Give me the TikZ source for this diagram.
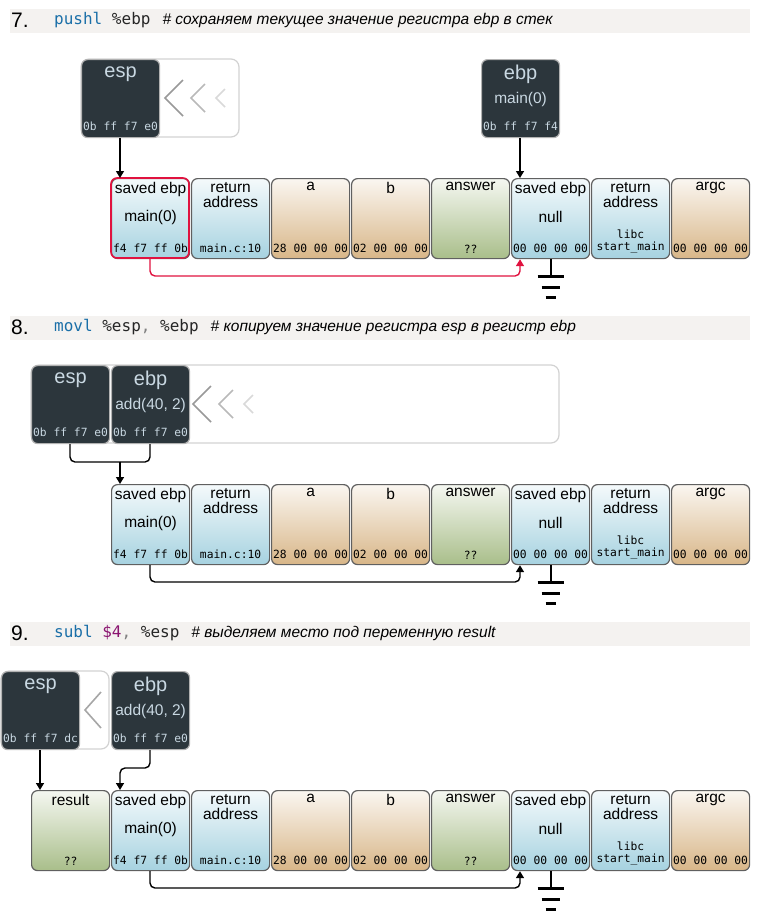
\documentclass[tikz,border=0pt]{standalone}
\usepackage{fontspec}
\setmainfont{Liberation Sans}
\newfontfamily\mono{DejaVu Sans Mono}
\usetikzlibrary{arrows.meta}
\definecolor{cblue}{HTML}{A6D2E0}
\definecolor{ctan}{HTML}{D8B688}
\definecolor{cgreen}{HTML}{A9BE8A}
\definecolor{creg}{HTML}{2C363C}
\definecolor{cregt}{HTML}{C9D8E2}
\definecolor{cred}{HTML}{E0123F}
\definecolor{hdr}{HTML}{F4F2F0}
\definecolor{kw}{HTML}{1A6FA8}
\definecolor{num}{HTML}{8A1470}
\tikzset{
 cell/.style={draw=gray!75!black,line width=1.2pt,rounded corners=6pt,minimum width=78pt,minimum height=80pt,inner sep=0pt,anchor=north west},
 reg/.style={draw=gray!60,line width=1.2pt,rounded corners=6pt,minimum width=78pt,minimum height=78pt,inner sep=0pt,anchor=north west,fill=creg},
 frame/.style={draw=gray!35,line width=1.2pt,rounded corners=8pt},
 ttl/.style={font=\fontsize{15.5}{15}\selectfont,align=center,anchor=north,inner sep=0pt},
 mid/.style={font=\fontsize{15.5}{16}\selectfont,inner sep=0pt},
 bot/.style={font=\mono\fontsize{11.3}{12}\selectfont,align=center,anchor=south,inner sep=0pt},
 rt/.style={text=cregt,inner sep=0pt},
 con/.style={line width=1.4pt,-{Triangle[length=7pt,width=8pt]}},
 gnd/.style={line width=3pt},
 chev/.style={line width=1.6pt,gray},
}
\newcommand\mycell[7]{%
 \node[cell,top color=#7!12,bottom color=#7] (#1) at (#2,#3) {};
 \node[ttl] at ([yshift=-4pt]#1.north) {#4};
 \node[mid] at ([yshift=-39pt]#1.north) {#5};
 \node[bot] at ([yshift=6pt]#1.south) {#6};}
\newcommand\myreg[6]{%
 \node[reg] (#1) at (#2,#3) {};
 \node[rt,font=\fontsize{20}{20}\selectfont] at ([yshift=-15pt]#1.north) {#4};
 \node[rt,font=\fontsize{15.5}{16}\selectfont] at ([yshift=-40pt]#1.north) {#5};
 \node[rt,font=\mono\fontsize{11.3}{11}\selectfont] at ([yshift=12pt]#1.south) {#6};}
\newcommand\chevs[3]{%
 \draw[chev,gray!80] (#1+18,#2-18)--(#1,#2)--(#1+18,#2+18);
 \draw[chev,gray!55] (#1+40,#2-14)--(#1+26,#2)--(#1+40,#2+14);
 \draw[chev,gray!30] (#1+60,#2-9)--(#1+51,#2)--(#1+60,#2+9);}
\newcommand\row[1]{%
 \mycell{rA#1}{191}{#1}{return\\address}{}{main.c:10}{cblue}
 \mycell{a#1}{271}{#1}{a}{}{28 00 00 00}{ctan}
 \mycell{b#1}{351}{#1}{b}{}{02 00 00 00}{ctan}
 \mycell{ans#1}{431}{#1}{answer}{}{??}{cgreen}
 \mycell{sn#1}{511}{#1}{saved ebp}{null}{00 00 00 00}{cblue}
 \mycell{rB#1}{591}{#1}{return\\address}{}{libc\\start\_main}{cblue}
 \mycell{argc#1}{671}{#1}{argc}{}{00 00 00 00}{ctan}
 \coordinate (g#1) at ([yshift=-17pt]sn#1.south);
 \draw[line width=1.8pt] (sn#1.south)--(g#1);
 \draw[gnd] ([xshift=-13pt]g#1)--([xshift=13pt]g#1);
 \draw[gnd] ([xshift=-9pt,yshift=-11pt]g#1)--([xshift=9pt,yshift=-11pt]g#1);
 \draw[gnd] ([xshift=-5pt,yshift=-21pt]g#1)--([xshift=5pt,yshift=-21pt]g#1);}
\newcommand\hdr[3]{%
 \fill[hdr] (10,#1) rectangle (750,#1+24);
 \node[anchor=west,inner sep=0pt,font=\fontsize{21}{21}\selectfont] at (11,#1+11) {#2};
 \node[anchor=west,inner sep=0pt] at (54,#1+11) {#3};}
\begin{document}
\begin{tikzpicture}[x=1pt,y=-1pt]
\useasboundingbox (0,0) rectangle (760,914);
% ---- 7
\hdr{9}{7.}{{\mono\fontsize{16}{16}\selectfont\color{kw}pushl \color{black!85}\%ebp}\hspace{12pt}{\fontsize{15.5}{16}\selectfont\itshape \# сохраняем текущее значение регистра ebp в стек}}
\draw[frame] (81,59) rectangle (239,137);
\chevs{165}{98}{}
\myreg{esp7}{81}{59}{esp}{}{0b ff f7 e0}
\myreg{ebp7}{481}{59}{ebp}{main(0)}{0b ff f7 f4}
\row{178}
\mycell{s7}{111}{178}{saved ebp}{main(0)}{f4 f7 ff 0b}{cblue}
\draw[cred,line width=1.6pt,rounded corners=6pt] (111,178) rectangle (189,258);
\draw[con] (esp7.south -| 120,0) -- (s7.north -| 120,0);
\draw[con] (ebp7.south -| 520,0) -- (sn178.north -| 520,0);
\draw[con,cred,rounded corners=5pt] (s7.south -| 150,0) -- (150,276) -- (520,276) -- (sn178.south -| 520,0);
% ---- 8
\hdr{316}{8.}{{\mono\fontsize{16}{16}\selectfont\color{kw}movl \color{black!85}\%esp\color{gray}, \color{black!85}\%ebp}\hspace{12pt}{\fontsize{15.5}{16}\selectfont\itshape \# копируем значение регистра esp в регистр ebp}}
\draw[frame] (31,365) rectangle (559,443);
\chevs{193}{404}{}
\myreg{esp8}{31}{365}{esp}{}{0b ff f7 e0}
\myreg{ebp8}{111}{365}{ebp}{add(40, 2)}{0b ff f7 e0}
\row{484}
\mycell{s8}{111}{484}{saved ebp}{main(0)}{f4 f7 ff 0b}{cblue}
\coordinate (j8) at (120,462);
\draw[line width=1.4pt,rounded corners=5pt] (esp8.south -| 70,0) -- (70,462) -- (j8);
\draw[line width=1.4pt,rounded corners=5pt] (ebp8.south -| 150,0) -- (150,462) -- (j8);
\draw[con] (j8) -- (s8.north -| 120,0);
\draw[con,rounded corners=5pt] (s8.south -| 150,0) -- (150,582) -- (520,582) -- (sn484.south -| 520,0);
% ---- 9
\hdr{622}{9.}{{\mono\fontsize{16}{16}\selectfont\color{kw}subl \color{num}\$4\color{gray}, \color{black!85}\%esp}\hspace{12pt}{\fontsize{15.5}{16}\selectfont\itshape \# выделяем место под переменную result}}
\draw[frame] (1,671) rectangle (109,749);
\draw[chev,gray!70] (101,692)--(85,710)--(101,728);
\myreg{esp9}{1}{671}{esp}{}{0b ff f7 dc}
\myreg{ebp9}{111}{671}{ebp}{add(40, 2)}{0b ff f7 e0}
\row{790}
\mycell{res9}{31}{790}{result}{}{??}{cgreen}
\mycell{s9}{111}{790}{saved ebp}{main(0)}{f4 f7 ff 0b}{cblue}
\draw[con] (esp9.south -| 40,0) -- (res9.north -| 40,0);
\draw[con,rounded corners=5pt] (ebp9.south -| 150,0) -- (150,768) -- (120,768) -- (s9.north -| 120,0);
\draw[con,rounded corners=5pt] (s9.south -| 150,0) -- (150,888) -- (520,888) -- (sn790.south -| 520,0);
\end{tikzpicture}
\end{document}
